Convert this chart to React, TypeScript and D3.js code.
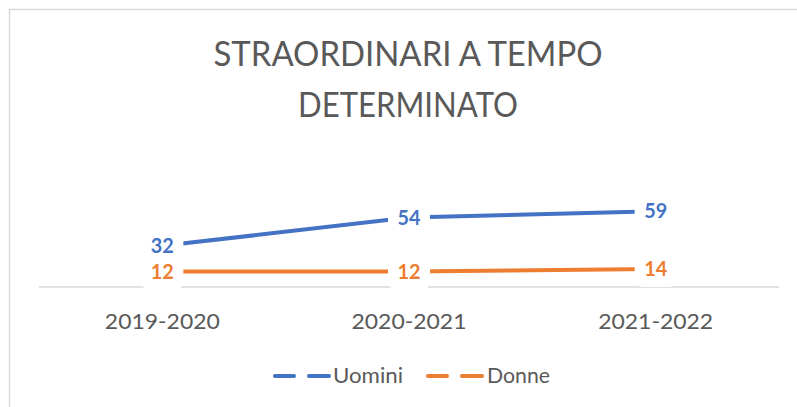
import * as d3 from 'd3';

const CATEGORIES = ['2019-2020', '2020-2021', '2021-2022'];
const UOMINI = [32, 54, 59];
const DONNE = [12, 12, 14];
const TITLE_LINES = ['STRAORDINARI A TEMPO', 'DETERMINATO'];

const SERIES = [
  { name: 'Uomini', values: UOMINI, color: '#4472C4' },
  { name: 'Donne', values: DONNE, color: '#ED7D31' },
];

const W = 797;
const H = 407;
const FONT = "Lato, 'Open Sans', sans-serif";
const GREY = '#595959';

export default function App() {
  const plot = { left: 39, right: 779, top: 197, bottom: 287 };

  const x = d3.scaleBand<string>().domain(CATEGORIES).range([plot.left, plot.right]).padding(0);
  const cx = (c: string) => (x(c) ?? 0) + x.bandwidth() / 2;
  const y = d3.scaleLinear().domain([0, 70]).range([plot.bottom, plot.top]);

  const line = d3.line<number>()
    .x((_, i) => cx(CATEGORIES[i]))
    .y(d => y(d));

  // legend layout
  const legend = [
    { x0: 275, tx: 333, len: 70 },
    { x0: 428, tx: 487, len: 63 },
  ];

  return (
    <svg width={W} height={H} style={{ position: 'absolute', left: 0, top: 0, background: '#fff' }}
      fontFamily={FONT}>
      <rect x={0} y={0} width={W} height={H} fill="#fff" />
      {/* chart frame */}
      <rect x={9.5} y={9.5} width={W + 20} height={H + 20} fill="none" stroke="#D9D9D9" strokeWidth={1.5} />

      {/* title */}
      <text x={408} y={66} textAnchor="middle" fontSize={35} fontWeight={400} fill={GREY}
        textLength={389} lengthAdjust="spacingAndGlyphs">{TITLE_LINES[0]}</text>
      <text x={408} y={117} textAnchor="middle" fontSize={35} fontWeight={400} fill={GREY}
        textLength={220} lengthAdjust="spacingAndGlyphs">{TITLE_LINES[1]}</text>

      {/* category axis */}
      <line x1={plot.left} x2={plot.right} y1={y(0)} y2={y(0)} stroke="#D9D9D9" strokeWidth={1.5} />
      {CATEGORIES.map(c => (
        <text key={c} x={cx(c)} y={329} textAnchor="middle" fontSize={22} fill={GREY}
          textLength={115} lengthAdjust="spacingAndGlyphs">{c}</text>
      ))}

      {/* series lines */}
      {SERIES.map(s => (
        <path key={s.name} d={line(s.values) ?? ''} fill="none" stroke={s.color} strokeWidth={4}
          strokeLinecap="round" />
      ))}

      {/* data labels with white boxes */}
      {SERIES.map(s => s.values.map((v, i) => {
        const px = cx(CATEGORIES[i]);
        const py = y(v);
        return (
          <g key={s.name + i}>
            <rect x={px - 21} y={py - 16} width={42} height={34} rx={8} fill="#fff" />
            <text x={px} y={py} dy="0.36em" textAnchor="middle" fontSize={20} fontWeight={700}
              fill={s.color} textLength={23} lengthAdjust="spacingAndGlyphs">{v}</text>
          </g>
        );
      }))}

      {/* legend */}
      {SERIES.map((s, i) => (
        <g key={s.name}>
          <line x1={legend[i].x0} x2={legend[i].x0 + 19} y1={376} y2={376} stroke={s.color}
            strokeWidth={4} strokeLinecap="round" />
          <line x1={legend[i].x0 + 34} x2={legend[i].x0 + 54} y1={376} y2={376} stroke={s.color}
            strokeWidth={4} strokeLinecap="round" />
          <text x={legend[i].tx} y={383} fontSize={22} fill={GREY}
            textLength={legend[i].len} lengthAdjust="spacingAndGlyphs">{s.name}</text>
        </g>
      ))}
    </svg>
  );
}
